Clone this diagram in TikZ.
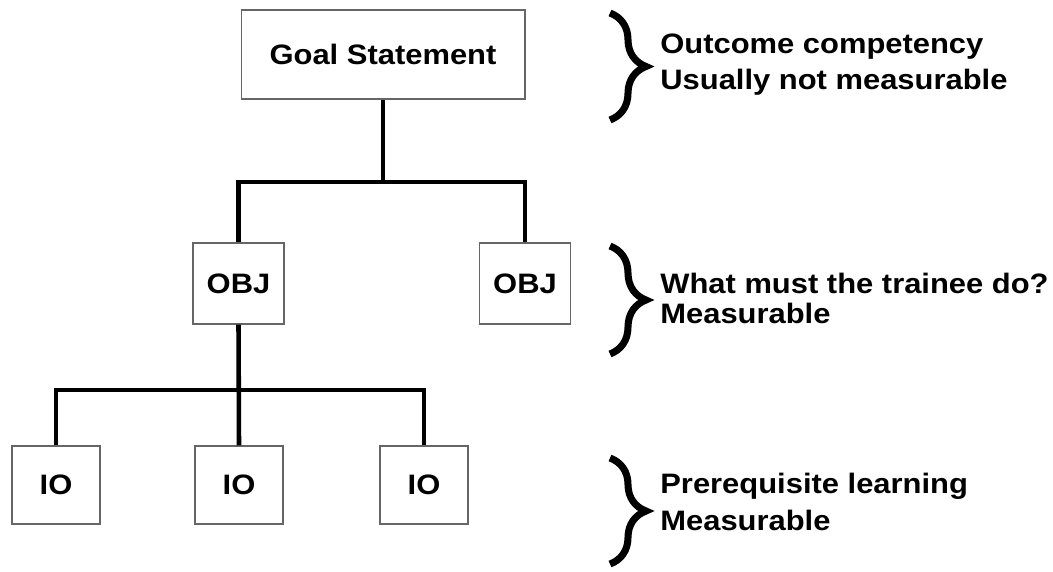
\documentclass[tikz,border=0pt]{standalone}
\usepackage{fontspec}
\setmainfont{Liberation Sans}[FakeStretch=1.1]
\usetikzlibrary{decorations.pathreplacing}

\begin{document}
\begin{tikzpicture}[x=0.02cm,y=-0.02cm,
  box/.style={draw=gray!80!black,line width=0.6pt,inner sep=0pt,font=\fontsize{16}{20}\selectfont\bfseries},
  link/.style={line width=2.6pt,line join=miter},
  curly/.style={decorate,decoration={brace,amplitude=0.72cm},line width=4pt},
  note/.style={anchor=base west,inner sep=0pt,font=\fontsize{16}{20}\selectfont\bfseries}]
\useasboundingbox (0,0) rectangle (1053,571);
\node[box,minimum width=5.68cm,minimum height=1.78cm] (goal) at (383,54.5) {Goal Statement};
\node[box,minimum width=1.82cm,minimum height=1.62cm] (obj1) at (238.5,283.5) {OBJ};
\node[box,minimum width=1.82cm,minimum height=1.62cm] (obj2) at (525,283.5) {OBJ};
\foreach \x/\n in {56/a,239/b,424/c}
  \node[box,minimum width=1.76cm,minimum height=1.56cm] (io\n) at (\x,485) {IO};
\coordinate (top) at (383,182);
\coordinate (low) at (239,390);
\draw[link] (goal.south) -- (top);
\draw[link] (obj1.north) |- (top) -| (obj2.north);
\draw[link] (obj1.south) -- (iob.north);
\draw[link] (ioa.north) |- (low) -| (ioc.north);
\draw[curly] (610,13) -- (610,120);
\draw[curly] (610,246) -- (610,354);
\draw[curly] (610,458) -- (610,564);
\node[note] (goaltxt1) at (660,53) {Outcome competency};
\node[note] (goaltxt2) at (660,90) {Usually not measurable};
\node[note] (objtxt1) at (660,293) {What must the trainee do?};
\node[note] (objtxt2) at (660,323) {Measurable};
\node[note] (iotxt1) at (660,493) {Prerequisite learning};
\node[note] (iotxt2) at (660,530) {Measurable};
\end{tikzpicture}
\end{document}
